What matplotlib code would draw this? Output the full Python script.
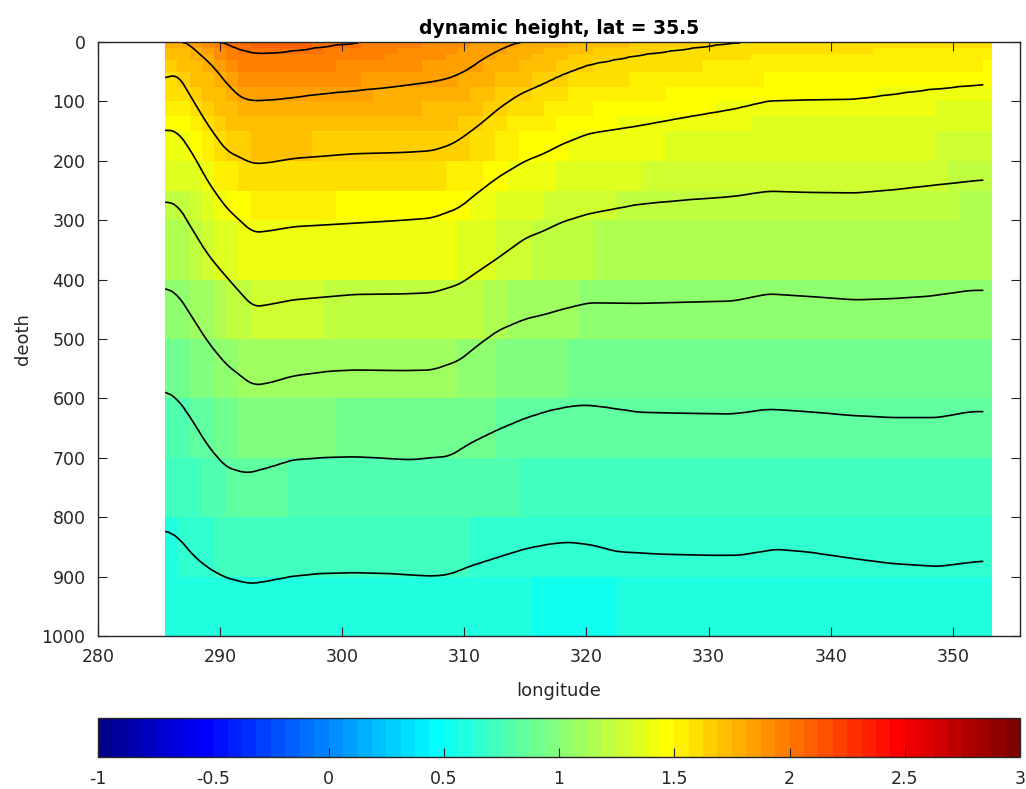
import numpy as np
import matplotlib
matplotlib.use("Agg")
import matplotlib.pyplot as plt
from matplotlib.colors import ListedColormap
from matplotlib.ticker import FuncFormatter

plt.rcParams['font.family'] = ['DejaVu Sans']

# grid of the section
lon = np.arange(285.5, 353.0, 1.0)
depth_std = [0, 10, 20, 30, 50, 75, 100, 125, 150, 200, 250, 300,
             400, 500, 600, 700, 800, 900, 1000]

# contour levels and the depth of each line
levels = [2.0, 1.8, 1.6, 1.4, 1.2, 1.0, 0.8, 0.6]

c20_lon = [290.2, 291, 292, 293.2, 295, 297, 299, 301.5]
c20_dep = [0, 8, 15, 19, 17, 12, 6, 0]

c18_lon = [287.2, 289.2, 290.5, 291.6, 292.7, 295, 298, 301, 304, 307.4, 308.8, 310.2, 311.5, 313, 314.5]
c18_dep = [0, 35, 68, 93, 99, 96, 88, 82, 76, 67, 61, 48, 29, 12, 0]

c16_lon = [285.5, 286.5, 287.8, 289, 290.5, 292.7, 294, 296, 301, 305, 307.4, 309, 310.1, 311.5,
           312.8, 314.5, 316.5, 318, 320.2, 324.3, 328, 332.5]
c16_dep = [61, 53, 99, 140, 183, 205, 203, 196, 188, 186, 183, 172, 157, 135,
           112, 88, 70, 55, 38, 22, 12, 0]

c14_lon = [285.5, 286.5, 287.8, 289, 290.5, 292.7, 294, 296, 301, 305, 307.4, 309.6, 311, 312.8,
           315, 316.5, 318, 320.2, 324.3, 328, 332, 334.9, 338, 342, 345, 348, 352.5]
c14_dep = [148, 150, 189, 235, 279, 321, 318, 311, 305, 300, 296, 279, 255, 227,
           200, 188, 172, 154, 141, 127, 113, 99, 97, 96, 88, 80, 71]

c12_lon = [285.5, 286.5, 287.8, 289, 290.5, 292.7, 294, 296, 301, 305, 307.4, 309.6, 311, 312.8,
           315, 316.5, 318, 320.2, 324.3, 328, 332, 334.9, 338, 342, 345, 348, 352.5]
c12_dep = [269, 273, 318, 358, 395, 446, 442, 434, 425, 424, 422, 408, 388, 363,
           330, 318, 303, 289, 273, 266, 260, 251, 253, 254, 249, 242, 232]

c10_lon = [285.5, 286.5, 287.8, 289, 290.5, 292.7, 294, 296, 299, 301, 305, 307.4, 309.6, 311, 312.8,
           315, 316.5, 318, 320.2, 324.3, 328, 332, 334.9, 338, 342, 345, 348, 351.5, 352.5]
c10_dep = [414, 424, 466, 505, 543, 578, 574, 562, 554, 552, 553, 552, 536, 512, 485,
           466, 459, 450, 439, 440, 438, 436, 424, 428, 434, 432, 428, 418, 418]

c08_lon = [285.5, 286.5, 287.8, 289, 290.5, 292.2, 294, 296, 299, 301, 305.6, 308.8, 310.5, 312.8,
           315, 317, 319, 320.2, 322, 324.3, 328, 332, 334.9, 338, 342, 345, 348.8, 351.5, 352.5]
c08_dep = [588, 600, 639, 680, 716, 726, 716, 703, 699, 698, 703, 697, 675, 652,
           633, 620, 612, 611, 616, 623, 625, 626, 618, 622, 629, 632, 632, 622, 622]

c06_lon = [285.5, 286.5, 287.8, 289, 290.5, 292.5, 294, 296, 298, 301, 304, 307.4, 308.8, 310.5,
           312.8, 315, 317, 318.6, 320.5, 322.5, 326, 330, 332.5, 335.5, 338, 342, 345, 348.8,
           351.5, 352.5]
c06_dep = [822, 832, 864, 885, 902, 912, 907, 899, 895, 893, 895, 899, 896, 882,
           867, 853, 845, 842, 847, 858, 862, 864, 864, 854, 858, 870, 878, 883,
           876, 874]

# value at the surface and at 1000 m
surf_lon = [285.5, 287.2, 290.2, 293, 297, 301.5, 308, 314.5, 320, 326, 332.5, 340, 352.5]
surf_val = [1.75, 1.8, 2.0, 2.1, 2.07, 2.0, 1.9, 1.8, 1.72, 1.66, 1.6, 1.585, 1.57]
bot_lon = [285.5, 300, 310, 318, 326, 340, 352.5]
bot_val = [0.52, 0.52, 0.52, 0.46, 0.5, 0.5, 0.5]

tables = [(c20_lon, c20_dep), (c18_lon, c18_dep), (c16_lon, c16_dep), (c14_lon, c14_dep),
          (c12_lon, c12_dep), (c10_lon, c10_dep), (c08_lon, c08_dep), (c06_lon, c06_dep)]


def matlab_jet(m=64):
    # same construction as MATLAB's jet(m)
    n = int(np.ceil(m / 4))
    u = np.concatenate([np.arange(1, n + 1) / n, np.ones(n - 1), np.arange(n, 0, -1) / n])
    g = int(np.ceil(n / 2)) - (1 if m % 4 == 1 else 0) + np.arange(1, len(u) + 1)
    r = g + n
    b = g - n
    J = np.zeros((m, 3))
    for ch, idx in ((0, r), (1, g), (2, b)):
        ok = (idx >= 1) & (idx <= m)
        J[idx[ok] - 1, ch] = u[ok]
    return ListedColormap(J)


def line_depths(xs):
    # contour depths along the section, lightly smoothed so the lines bend softly
    lon_f = np.arange(285.5, 352.51, 0.25)
    out = []
    for lo, de in tables:
        d = np.interp(lon_f, lo, de, left=-1, right=-1)
        d = np.convolve(np.pad(d, 2, mode='edge'), np.ones(5) / 5, mode='valid')
        out.append(np.interp(xs, lon_f, d))
    return np.array(out)


def build_field(xs, depths):
    lv = np.array(levels)
    dl = line_depths(xs)
    surf = np.interp(xs, surf_lon, surf_val)
    bot = np.interp(xs, bot_lon, bot_val)
    out = np.zeros((len(depths), len(xs)))
    for j in range(len(xs)):
        here = dl[:, j] > 0
        s = surf[j]
        if here.any():
            s = max(s, lv[here].max() + 0.005)
        if (~here).any():
            s = min(s, lv[~here].min() - 0.005)
        dp = np.concatenate([[0], dl[here, j], [1000]])
        vp = np.concatenate([[s], lv[here], [bot[j]]])
        out[:, j] = np.interp(depths, dp, vp)
    return out


dh_std = build_field(lon, np.array(depth_std, float))
lon_fine = np.arange(285.5, 352.51, 0.25)
depth_fine = np.arange(0, 1001, 5.0)
dh_fine = build_field(lon_fine, depth_fine)

fig = plt.figure(figsize=(10.26, 7.89), dpi=100)
ax = fig.add_axes([98 / 1026, 1 - 636 / 789, 922 / 1026, 594 / 789])
cax = fig.add_axes([98 / 1026, 1 - 757 / 789, 922 / 1026, 39 / 789])

cmap = matlab_jet(64)
x_edges = np.append(lon, lon[-1] + 0.7)
mesh = ax.pcolormesh(x_edges, depth_std, dh_std[:-1, :], cmap=cmap, vmin=-1, vmax=3,
                     shading='flat')
ax.contour(lon_fine, depth_fine, dh_fine, levels=sorted(levels), colors='k', linewidths=1.2)

ink = '#262626'
ax.set_xlim(280, 355.5)
ax.set_ylim(1000, 0)
ax.set_xticks(np.arange(280, 351, 10))
ax.set_yticks(np.arange(0, 1001, 100))
ax.tick_params(direction='in', length=6.5, width=0.8, top=True, right=True,
               labelsize=12.5, colors=ink, pad=9)
for sp in ax.spines.values():
    sp.set_color(ink)
    sp.set_linewidth(1.0)
ax.set_xlabel('longitude', fontsize=13, color=ink, labelpad=11)
ax.set_ylabel('deoth', fontsize=13, color=ink, labelpad=7)
ax.set_title('dynamic height, lat = 35.5', fontsize=13.5, fontweight='bold', color='black', pad=6)

cb = fig.colorbar(mesh, cax=cax, orientation='horizontal', ticks=np.arange(-1, 3.01, 0.5))
cb.ax.xaxis.set_major_formatter(FuncFormatter(lambda v, p: f'{v:g}'))
cb.ax.tick_params(direction='in', length=6.5, width=0.8, labelsize=12.5, colors=ink, pad=9)
cb.outline.set_edgecolor(ink)
cb.outline.set_linewidth(1.0)

fig.savefig('out.png', dpi=100)
